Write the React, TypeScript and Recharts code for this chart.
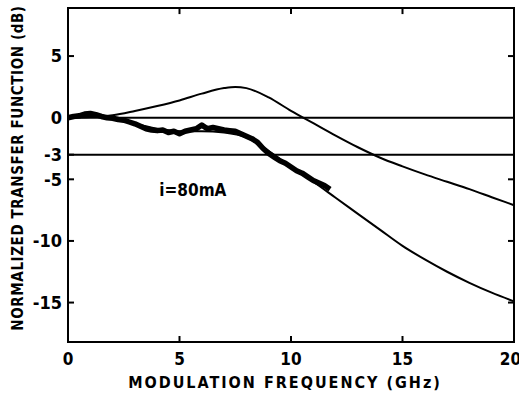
import React from "react";
import {
  ComposedChart,
  Line,
  XAxis,
  YAxis,
  ReferenceLine,
  ReferenceDot,
} from "recharts";

// theory curves (GHz, dB)
const upperFreq = [0, 1, 2, 3, 4, 5, 6, 7, 7.5, 8, 9, 10, 11, 12, 13, 14, 15, 16, 17, 18, 19, 20];
const upperDb = [0, 0.05, 0.2, 0.55, 0.95, 1.4, 1.95, 2.4, 2.5, 2.4, 1.65, 0.55, -0.45, -1.45, -2.4, -3.25, -3.95, -4.6, -5.2, -5.8, -6.45, -7.1];

const lowerFreq = [0, 1, 2, 3, 4, 5, 6, 7, 8, 9, 10, 11, 12, 13, 14, 15, 16, 17, 18, 19, 20];
const lowerDb = [0, 0.1, -0.1, -0.5, -0.9, -1.1, -1.1, -1.2, -1.6, -2.7, -4.0, -5.2, -6.5, -7.8, -9.1, -10.4, -11.5, -12.5, -13.4, -14.2, -14.9];

// measured response, i = 80 mA
const measFreq = [
  0, 0.25, 0.5, 0.75, 1, 1.25, 1.5, 1.75, 2, 2.25, 2.5, 2.75, 3, 3.25, 3.5, 3.75, 4, 4.25, 4.5, 4.75, 5,
  5.25, 5.5, 5.75, 6, 6.25, 6.5, 6.75, 7, 7.25, 7.5, 7.75, 8, 8.25, 8.5, 8.75, 9, 9.25, 9.5, 9.75, 10,
  10.25, 10.5, 10.75, 11, 11.25, 11.5, 11.75,
];
const measDb = [
  0, 0.1, 0.15, 0.3, 0.35, 0.25, 0.1, 0.0, -0.05, -0.15, -0.2, -0.35, -0.5, -0.7, -0.9, -1.0, -1.05, -1.0, -1.2, -1.1, -1.3,
  -1.1, -1.0, -0.9, -0.6, -0.9, -0.8, -0.9, -1.0, -1.05, -1.1, -1.3, -1.5, -1.7, -2.0, -2.5, -2.9, -3.2, -3.5, -3.7, -4.0,
  -4.3, -4.5, -4.8, -5.1, -5.3, -5.5, -5.8,
];

const xTicks = [0, 5, 10, 15, 20];
const xInnerTicks = [5, 10, 15];
const yTicks = [5, 0, -3, -5, -10, -15];
const yRightTicks = [5, -5, -10, -15];
const xDomain = [0, 20];
const yDomain = [-18.2, 8.9];

const upper = upperFreq.map((f, i) => ({ f, db: upperDb[i] }));
const lower = lowerFreq.map((f, i) => ({ f, db: lowerDb[i] }));
const measured = measFreq.map((f, i) => ({ f, db: measDb[i] }));

const font = "'DejaVu Sans Condensed', 'DejaVu Sans', sans-serif";
const axisStroke = { stroke: "#000", strokeWidth: 2 };
const margin = { top: 8, right: 5, bottom: 0, left: 0 };
const yAxisWidth = 68;
const xAxisHeight = 56;
const W = 519;
const H = 398;
// half of the inward tick length on the top / right frame, in data units (~3px)
const halfTickX = 0.135;
const halfTickY = 0.25;

const TopTick = (p: any) => (
  <line x1={p.cx} y1={p.cy - 3} x2={p.cx} y2={p.cy + 3} stroke="#000" strokeWidth={2} />
);
const RightTick = (p: any) => (
  <line x1={p.cx - 3} y1={p.cy} x2={p.cx + 3} y2={p.cy} stroke="#000" strokeWidth={2} />
);

export default function App() {
  const [, x1] = xDomain;
  const [, y1] = yDomain;
  // plot box, from the same margins/axis sizes the chart uses
  const plotLeft = margin.left + yAxisWidth;
  const plotTop = margin.top;
  const plotW = W - plotLeft - margin.right;
  const plotH = H - plotTop - margin.bottom - xAxisHeight;
  return (
    <div style={{ position: "absolute", left: 0, top: 0, width: W, height: H, background: "#fff" }}>
      <ComposedChart width={W} height={H} margin={margin}>
        <XAxis
          dataKey="f"
          type="number"
          domain={xDomain}
          ticks={xTicks}
          height={xAxisHeight}
          tickSize={-6}
          tickMargin={17}
          axisLine={axisStroke}
          tickLine={axisStroke}
          tick={{ fill: "#000", fontSize: 17, fontWeight: "bold", fontFamily: font }}
          label={{
            value: "MODULATION FREQUENCY (GHz)",
            position: "insideBottom",
            offset: 10,
            dx: -6,
            style: { fill: "#000", fontSize: 16, fontWeight: "bold", fontFamily: font, letterSpacing: 2 },
          }}
        />
        <YAxis
          type="number"
          domain={yDomain}
          ticks={yTicks}
          width={yAxisWidth}
          tickSize={-6}
          tickMargin={12}
          interval={0}
          axisLine={axisStroke}
          tickLine={axisStroke}
          tick={{ fill: "#000", fontSize: 18, fontWeight: "bold", fontFamily: font }}
          label={{
            content: (props: any) => {
              const vb = props.viewBox || { x: 0, y: 8, width: 68, height: 334 };
              const cx = vb.x + 18;
              const cy = vb.y + vb.height / 2 - 7;
              return (
                <text
                  x={cx}
                  y={cy}
                  transform={`rotate(-90, ${cx}, ${cy})`}
                  textAnchor="middle"
                  dominantBaseline="central"
                  style={{ fill: "#000", fontSize: 15, fontWeight: "bold", fontFamily: font, letterSpacing: 0.6 }}
                >
                  NORMALIZED TRANSFER FUNCTION (dB)
                </text>
              );
            },
          }}
        />
        {/* inward ticks on the top and right frame */}
        {xInnerTicks.map((t) => (
          <ReferenceDot key={`tt-${t}`} x={t} y={y1 - halfTickY} r={3} shape={TopTick} />
        ))}
        {yRightTicks.map((t) => (
          <ReferenceDot key={`rt-${t}`} x={x1 - halfTickX} y={t} r={3} shape={RightTick} />
        ))}
        <ReferenceLine y={0} stroke="#000" strokeWidth={2} />
        <ReferenceLine y={-3} stroke="#000" strokeWidth={2} />
        <Line
          data={upper}
          dataKey="db"
          type="monotone"
          stroke="#000"
          strokeWidth={2}
          dot={false}
          isAnimationActive={false}
        />
        <Line
          data={lower}
          dataKey="db"
          type="monotone"
          stroke="#000"
          strokeWidth={2}
          dot={false}
          isAnimationActive={false}
        />
        <Line
          data={measured}
          dataKey="db"
          type="linear"
          stroke="#000"
          strokeWidth={5.5}
          strokeLinejoin="round"
          dot={false}
          isAnimationActive={false}
        />
        <ReferenceDot
          x={5.6}
          y={-5.9}
          r={1}
          fill="none"
          stroke="none"
          label={{
            value: "i=80mA",
            position: "center",
            style: { fill: "#000", fontSize: 17, fontWeight: "bold", fontFamily: font },
          }}
        />
      </ComposedChart>
      {/* plot frame drawn over the chart */}
      <div
        style={{
          position: "absolute",
          left: plotLeft - 1,
          top: plotTop - 1,
          width: plotW + 2,
          height: plotH + 2,
          border: "2px solid #000",
          boxSizing: "border-box",
          pointerEvents: "none",
        }}
      />
    </div>
  );
}
